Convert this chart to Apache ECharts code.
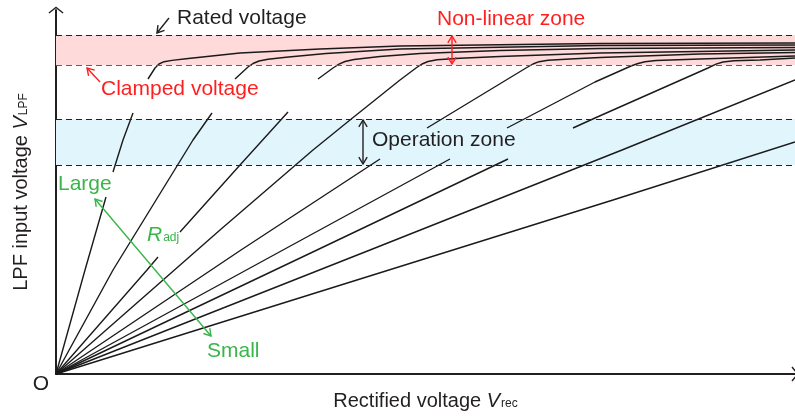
<!DOCTYPE html>
<html><head><meta charset="utf-8">
<script src="https://cdn.jsdelivr.net/npm/echarts@6/dist/echarts.min.js"></script>
<style>html,body{margin:0;padding:0;background:#fff}#c{width:795px;height:416px}</style>
</head><body><div id="c"></div>
<script>
// ---- Data (schematic units: Vrec on x, VLPF on y); null = break in the drawn line ----
const curveA = [[0,0],[29,104],[50,177],null,[57,202],[67,234],[77,261],null,[92,295],[99,306],[103,310],[108,312.3],[116,313.6],[130,315.3],[184,321],[264,325],[344,328],[544,330.5],[739,331]];
const curveB = [[0,0],[57,104],[137,234],[156,261],null,[179,295],[192,307],[197,310.5],[203,313],[212,314.8],[230,316.8],[270,320.5],[344,325],[544,328.5],[739,329]];
const curveC = [[0,0],[91,104],[102,117],null,[124,142],[184,209],[232,262],null,[262,295],[277,306],[283,309.8],[289,312.5],[298,314.5],[324,317.5],[364,320.5],[444,323.5],[544,325.5],[739,326.5]];
const curveD = [[0,0],[164,144],[257,224],[294,254],[344,294],[360,306],[366,310],[372,312.5],[381,314.3],[404,315.8],[444,317.5],[544,321],[739,324]];
const curveE = [[0,0],[185,124],[324,215],null,[371,246],[470,306],[477,310],[483,312.3],[492,313.8],[514,315],[544,316.5],[644,320],[739,321.5]];
const curveF = [[0,0],[227,124],[394,215],null,[451,246],[539,292],[575,308],[582,310.5],[589,312.3],[600,313.5],[644,315],[739,318]];
const curveG = [[0,0],[261,124],[452,215],null,[517,246],[539,256],[652,306],[660,309.8],[667,312],[678,313.2],[704,314],[739,316]];
const curveH = [[0,0],[314,124],[566,224],[739,294]];
const curveI = [[0,0],[557,174],[739,232]];
const curves = [curveA, curveB, curveC, curveD, curveE, curveF, curveG, curveH, curveI];

const ratedVoltage = 339;
const clampedVoltage = 309;
const operationZone = [209, 255];

const labels = {
  rated: 'Rated voltage',
  clamped: 'Clamped voltage',
  nonlinear: 'Non-linear zone',
  operation: 'Operation zone',
  large: 'Large',
  small: 'Small',
  origin: 'O'
};

// ---- Layout / style ----
const FONT = '"Liberation Sans", Arial, sans-serif';
const FS = 21;
const TXT = '#231f20';
const RED = '#ff1f1f';
const GREEN = '#39b54a';
const X_MAX = 739, Y_MAX = 364;

const chevron = 'path://M0,0 L10,8 L8.8,9.4 L0,2.3 L-8.8,9.4 L-10,8 Z';

const chart = echarts.init(document.getElementById('c'), null, {renderer: 'canvas'});

const lineSeries = curves.map((c, i) => ({
  type: 'line',
  name: 'c' + i,
  data: c.map(p => p === null ? ['-', '-'] : p),
  showSymbol: false,
  symbol: 'none',
  smooth: false,
  connectNulls: false,
  clip: false,
  z: 3,
  lineStyle: {color: '#1a1a1a', width: 1.4},
  silent: true
}));

const zoneSeries = {
  type: 'line',
  data: [],
  z: 1,
  silent: true,
  markArea: {
    silent: true,
    data: [
      [{yAxis: clampedVoltage, itemStyle: {color: '#ffdada'}}, {yAxis: ratedVoltage}],
      [{yAxis: operationZone[0], itemStyle: {color: '#e1f5fd'}}, {yAxis: operationZone[1]}]
    ]
  },
  markLine: {
    silent: true,
    symbol: 'none',
    label: {show: false},
    data: [
      {yAxis: ratedVoltage, lineStyle: {color: '#222', type: [6, 4], width: 1.2}},
      {yAxis: clampedVoltage, lineStyle: {color: RED, type: [6, 4], width: 1.2}},
      {yAxis: operationZone[0], lineStyle: {color: '#222', type: [6, 4], width: 1.2}},
      {yAxis: operationZone[1], lineStyle: {color: '#222', type: [6, 4], width: 1.2}}
    ]
  }
};

const axisCommon = {
  type: 'value', min: 0,
  axisTick: {show: false}, axisLabel: {show: false}, splitLine: {show: false},
  axisLine: {show: true, onZero: false, symbol: ['none', chevron], symbolSize: [15, 10], lineStyle: {color: '#231f20', width: 2}}
};
const titleRich = {
  t: {fontFamily: FONT, fontSize: 20, color: TXT},
  v: {fontFamily: FONT, fontSize: 20, fontStyle: 'italic', color: TXT},
  s: {fontFamily: FONT, fontSize: 12, color: TXT, padding: [0, 0, -5, 1]}
};

chart.setOption({
  animation: false,
  grid: {left: 56, right: 0, top: 10, bottom: 42, outerBoundsMode: 'none', containLabel: false},
  xAxis: Object.assign({}, axisCommon, {
    max: X_MAX,
    name: '{t|Rectified voltage }{v|V}{s|rec}',
    nameLocation: 'middle', nameGap: 17,
    nameTextStyle: {rich: titleRich}
  }),
  yAxis: Object.assign({}, axisCommon, {
    max: Y_MAX,
    name: '{t|LPF input voltage }{v|V}{s|LPF}',
    nameLocation: 'middle', nameGap: 25, nameRotate: 90,
    nameTextStyle: {rich: titleRich}
  }),
  series: [zoneSeries].concat(lineSeries)
});

// ---- Annotations (anchored in data coordinates) ----
const P = (x, y) => chart.convertToPixel({gridIndex: 0}, [x, y]);

function arrow(a, b, color, both) {
  const [x0, y0] = P(a[0], a[1]);
  const [x1, y1] = P(b[0], b[1]);
  const els = [{type: 'line', shape: {x1: x0, y1: y0, x2: x1, y2: y1}, style: {stroke: color, lineWidth: 1.4}, z: 10}];
  const head = (tx, ty, fx, fy) => {
    const ang = Math.atan2(ty - fy, tx - fx), L = 8, w = 0.55;
    els.push({type: 'polyline', shape: {points: [
      [tx - L * Math.cos(ang - w), ty - L * Math.sin(ang - w)], [tx, ty],
      [tx - L * Math.cos(ang + w), ty - L * Math.sin(ang + w)]]},
      style: {stroke: color, lineWidth: 1.4, fill: null}, z: 10});
  };
  head(x1, y1, x0, y0);
  if (both) head(x0, y0, x1, y1);
  return els;
}
function text(str, at, color, extra) {
  const [x, y] = P(at[0], at[1]);
  return Object.assign({type: 'text', x: x, y: y, z: 10,
    style: Object.assign({text: str, fill: color, fontFamily: FONT, fontSize: FS, verticalAlign: 'middle', align: 'left'}, extra || {})});
}

const g = [].concat(
  [text(labels.rated, [121, 356], TXT)],
  arrow([113, 356], [101, 341], TXT, false),
  [text(labels.nonlinear, [381, 355], RED)],
  arrow([396, 310], [396, 338], RED, true),
  [text(labels.clamped, [45, 285], RED)],
  arrow([44, 292], [31, 306], RED, false),
  [text(labels.operation, [316, 234], TXT)],
  arrow([307, 210], [307, 254], TXT, true),
  [text(labels.large, [2, 190], GREEN)],
  [text(labels.small, [151, 23], GREEN)],
  arrow([39, 175], [155, 38], GREEN, true),
  [text('{i|R}{s|adj}', [91, 139], GREEN, {rich: {
    i: {fontFamily: FONT, fontSize: FS, fontStyle: 'italic', fill: GREEN},
    s: {fontFamily: FONT, fontSize: 12, fill: GREEN, padding: [0, 0, -5, 1]}
  }})],
  [text(labels.origin, [-15, -10], TXT, {align: 'center'})]
);
chart.setOption({graphic: {elements: g}});
</script></body></html>
